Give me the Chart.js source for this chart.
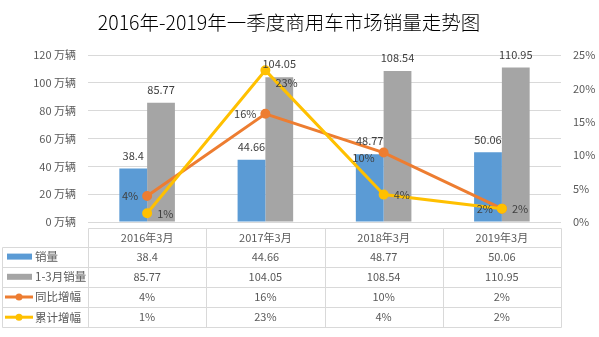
<!DOCTYPE html>
<html>
<head>
<meta charset="utf-8">
<script src="https://cdn.jsdelivr.net/npm/chart.js@4/dist/chart.umd.min.js"></script>
<style>
  html, body { margin: 0; padding: 0; background: #fff; }
  #wrap { width: 599px; height: 337px; }
</style>
</head>
<body>
<div id="wrap"><canvas id="sales-chart"></canvas></div>
<script>
// 2016-2019 一季度商用车销量

const chartTitle = '2016年-2019年一季度商用车市场销量走势图';
const categories = ['2016年3月', '2017年3月', '2018年3月', '2019年3月'];
const marchSales = [38.4, 44.66, 48.77, 50.06];          // 销量 (万辆)
const q1Sales = [85.77, 104.05, 108.54, 110.95];         // 1-3月销量 (万辆)
const yoyGrowth = [3.9, 16.2, 10.4, 2.0];                // 同比增幅 (%)
const cumGrowth = [1.3, 22.7, 4.1, 2.0];                 // 累计增幅 (%)
const leftTicks = [0, 20, 40, 60, 80, 100, 120];
const rightTicks = [0, 5, 10, 15, 20, 25];

const FONT = "'Noto Sans CJK SC', 'Noto Sans', sans-serif";
const TEXT = '#595959';
const GRID = '#d9d9d9';

// small nudges for overlapping line labels
const yoyNudge = [0, 0, 5, 0];
const cumNudge = [0, 12, 0, 0];

const pct = v => Math.round(v) + '%';

// title, drawn a bit left of centre like the original
const titlePlugin = {
    id: 'sheetTitle',
    afterDraw(chart) {
        const ctx = chart.ctx;
        ctx.save();
        ctx.font = '300 19.5px ' + FONT;
        ctx.fillStyle = '#000';
        ctx.textAlign = 'center';
        ctx.textBaseline = 'middle';
        ctx.fillText(chartTitle, 289, 23);
        ctx.restore();
    }
};

// data labels drawn on top of everything
const labelPlugin = {
    id: 'labels',
    afterDatasetsDraw(chart) {
        const ctx = chart.ctx;
        ctx.save();
        ctx.font = '11px ' + FONT;
        ctx.fillStyle = '#404040';
        ctx.textBaseline = 'middle';

        [0, 1].forEach(di => {
            const meta = chart.getDatasetMeta(di);
            meta.data.forEach((bar, i) => {
                ctx.textAlign = 'center';
                ctx.fillText(String(chart.data.datasets[di].data[i]), bar.x, bar.y - 13);
            });
        });

        chart.getDatasetMeta(2).data.forEach((pt, i) => {
            ctx.textAlign = 'right';
            ctx.fillText(pct(yoyGrowth[i]), pt.x - 9, pt.y + yoyNudge[i]);
        });
        chart.getDatasetMeta(3).data.forEach((pt, i) => {
            ctx.textAlign = 'left';
            ctx.fillText(pct(cumGrowth[i]), pt.x + 10, pt.y + cumNudge[i]);
        });
        ctx.restore();
    }
};

// data table under the plot
const tablePlugin = {
    id: 'dataTable',
    afterDraw(chart) {
        const ctx = chart.ctx;
        const area = chart.chartArea;
        const x = chart.scales.x;
        const colW = x.width / categories.length;
        const top = Math.round(area.bottom) + 6.5;
        const headH = 18;
        const rowH = 20.2;
        const rows = [
            { name: '销量', vals: marchSales.map(String), color: '#5b9bd5', type: 'bar' },
            { name: '1-3月销量', vals: q1Sales.map(String), color: '#a5a5a5', type: 'bar' },
            { name: '同比增幅', vals: yoyGrowth.map(pct), color: '#ed7d31', type: 'line' },
            { name: '累计增幅', vals: cumGrowth.map(pct), color: '#ffc000', type: 'line' },
        ];
        const bodyTop = top + headH;
        const bottom = bodyTop + rowH * rows.length;
        const left = 2.5;

        ctx.save();
        ctx.strokeStyle = GRID;
        ctx.lineWidth = 1;
        ctx.beginPath();
        // horizontal lines
        ctx.moveTo(Math.round(area.left) + 0.5, top);
        ctx.lineTo(Math.round(area.right) + 0.5, top);
        for (let r = 0; r <= rows.length; r++) {
            const y = Math.round(bodyTop + r * rowH) + 0.5;
            ctx.moveTo(left, y);
            ctx.lineTo(Math.round(area.right) + 0.5, y);
        }
        // vertical lines
        ctx.moveTo(left, Math.round(bodyTop) + 0.5);
        ctx.lineTo(left, Math.round(bottom) + 0.5);
        for (let c = 0; c <= categories.length; c++) {
            const xx = Math.round(x.left + c * colW) + 0.5;
            ctx.moveTo(xx, top);
            ctx.lineTo(xx, Math.round(bottom) + 0.5);
        }
        ctx.stroke();

        ctx.font = '11px ' + FONT;
        ctx.fillStyle = TEXT;
        ctx.textBaseline = 'middle';
        ctx.textAlign = 'center';
        categories.forEach((c, i) => {
            ctx.fillText(c, x.getPixelForValue(i), top + headH / 2);
        });

        rows.forEach((row, r) => {
            const cy = bodyTop + r * rowH + rowH / 2;
            if (row.type === 'bar') {
                ctx.fillStyle = row.color;
                ctx.fillRect(7, cy - 3, 25, 6);
            } else {
                ctx.strokeStyle = row.color;
                ctx.lineWidth = 3;
                ctx.beginPath();
                ctx.moveTo(5, cy);
                ctx.lineTo(33, cy);
                ctx.stroke();
                ctx.fillStyle = row.color;
                ctx.beginPath();
                ctx.arc(19, cy, 3.5, 0, Math.PI * 2);
                ctx.fill();
            }
            ctx.fillStyle = TEXT;
            ctx.textAlign = 'left';
            ctx.font = '11.5px ' + FONT;
            ctx.fillText(row.name, 35, cy);
            ctx.font = '11px ' + FONT;
            ctx.textAlign = 'center';
            row.vals.forEach((v, i) => {
                ctx.fillText(v, x.getPixelForValue(i), cy);
            });
        });
        ctx.restore();
    }
};

const SALES_Chart = document.getElementById('sales-chart');

const salesChart = new Chart(SALES_Chart, {
    type: 'bar',
    data: {
        labels: categories,
        datasets: [
            {
                label: '销量',
                data: marchSales,
                backgroundColor: '#5b9bd5',
                yAxisID: 'y',
                order: 2,
            },
            {
                label: '1-3月销量',
                data: q1Sales,
                backgroundColor: '#a5a5a5',
                yAxisID: 'y',
                order: 2,
            },
            {
                type: 'line',
                label: '同比增幅',
                data: yoyGrowth,
                borderColor: '#ed7d31',
                backgroundColor: '#ed7d31',
                borderWidth: 3,
                pointRadius: 3.5,
                yAxisID: 'y1',
                order: 1,
            },
            {
                type: 'line',
                label: '累计增幅',
                data: cumGrowth,
                borderColor: '#ffc000',
                backgroundColor: '#ffc000',
                borderWidth: 3,
                pointRadius: 3.5,
                yAxisID: 'y1',
                order: 0,
            },
        ],
    },
    options: {
        responsive: true,
        maintainAspectRatio: false,
        animation: false,
        devicePixelRatio: 1,
        layout: { padding: { left: 0, right: 0, top: 55, bottom: 115 } },
        datasets: {
            bar: { categoryPercentage: 0.47, barPercentage: 1.0 }
        },
        plugins: {
            legend: { display: false },
            tooltip: { enabled: false },
            title: { display: false },
        },
        scales: {
            x: {
                display: false,
            },
            y: {
                position: 'left',
                min: 0,
                max: 120,
                afterBuildTicks: s => { s.ticks = leftTicks.map(v => ({ value: v })); },
                afterFit: s => { s.width = 88; },
                ticks: {
                    callback: v => v + ' 万辆',
                    color: TEXT,
                    font: { family: FONT, size: 11 },
                    padding: 12,
                },
                grid: { color: GRID, drawTicks: false },
                border: { display: false },
            },
            y1: {
                position: 'right',
                min: 0,
                max: 25,
                afterBuildTicks: s => { s.ticks = rightTicks.map(v => ({ value: v })); },
                afterFit: s => { s.width = 38; },
                ticks: {
                    callback: v => v + '%',
                    color: TEXT,
                    font: { family: FONT, size: 11 },
                    padding: 12,
                },
                grid: { drawOnChartArea: false, drawTicks: false },
                border: { display: false },
            },
        },
    },
    plugins: [titlePlugin, labelPlugin, tablePlugin],
});
</script>
</body>
</html>
